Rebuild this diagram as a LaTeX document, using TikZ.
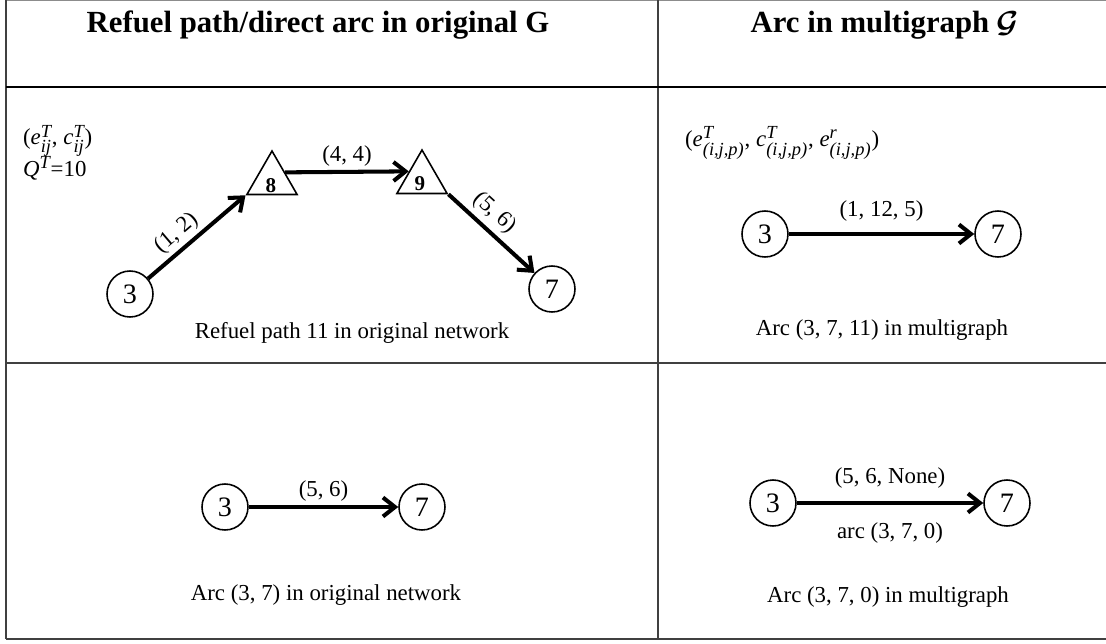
\documentclass[tikz,border=0pt]{standalone}
\usepackage{amsmath}
\usepackage{fontspec}
\setmainfont{Liberation Serif}
\usetikzlibrary{arrows.meta,shapes.geometric,calc}
\newcommand\mi[1]{\textit{#1}}
\newcommand\supsub[2]{$^{\text{\fontsize{10.5}{11}\selectfont\itshape #1}}_{\text{\fontsize{10.5}{11}\selectfont\itshape #2}}$}
\newcommand\calG{\ensuremath{\boldsymbol{\mathcal{G}}}}
\begin{document}
\begin{tikzpicture}[x=0.02cm,y=-0.02cm,
  vertex/.style={circle,draw,line width=0.9pt,minimum size=0.92cm,inner sep=0pt,font=\fontsize{16}{18}\selectfont},
  station/.style={regular polygon,regular polygon sides=3,draw,line width=0.9pt,minimum size=1.16cm,inner sep=0pt},
  stlabel/.style={font=\fontsize{12}{14}\selectfont\bfseries,inner sep=0pt},
  arc/.style={line width=2.3pt,-{Straight Barb[length=2.4mm,width=3.8mm]}},
  lbl/.style={font=\fontsize{13}{15}\selectfont,inner sep=1pt},
  caption/.style={font=\fontsize{13}{15}\selectfont,inner sep=0pt},
  head/.style={font=\fontsize{17.5}{20}\selectfont\bfseries,inner sep=0pt},
  tablerule/.style={draw=black!75,line width=0.85pt}]
\useasboundingbox (0,0) rectangle (1106,643);
% table rules
\draw[draw=black!45,line width=1pt] (6,0.6) -- (1106,0.6);
\draw[tablerule] (6,0) -- (6,639);
\draw[tablerule] (658,0) -- (658,639);
\draw[black,line width=1.7pt] (6,87) -- (1106,87);
\draw[tablerule] (6,363) -- (1106,363);
\draw[tablerule,line width=1.1pt] (6,639) -- (1106,639);
% headers
\node[head] (h1) at (318,25) {Refuel path/direct arc in original G};
\node[head] (h2) at (885,25) {Arc in multigraph \calG};
% row 1 left
\node[lbl,anchor=west] (leg1) at (21,141) {(\mi{e}\supsub{T}{ij}, \mi{c}\supsub{T}{ij})};
\node[lbl,anchor=west] (leg1b) at (21,168) {\mi{Q\/}$^{\text{\fontsize{10.5}{11}\selectfont\itshape T}}$=10};
\node[vertex] (a3) at (130,294) {3};
\node[vertex] (a7) at (552,289) {7};
\node[station] (t8) at (272,180) {};
\node[station] (t9) at (422,179) {};
\node[stlabel] (l8) at (271,186) {8};
\node[stlabel] (l9) at (420,184) {9};
\draw[arc] (a3) -- (t8.corner 2) node[lbl,pos=0.4,above,sloped,yshift=1pt] {(1, 2)};
\draw[arc] ($(t8.corner 1)!0.5!(t8.corner 3)$) -- ($(t9.corner 1)!0.5!(t9.corner 2)$) node[lbl,midway,above,yshift=1pt] {(4, 4)};
\draw[arc] (t9.corner 3) -- (a7) node[lbl,pos=0.4,above,sloped,yshift=2pt] {(5, 6)};
\node[caption] (cap1) at (352,333) {Refuel path 11 in original network};
% row 1 right
\node[lbl,anchor=west] (leg2) at (683,143) {(\mi{e}\supsub{T}{(i,j,p)}, \mi{c}\supsub{T}{(i,j,p)}, \mi{e}\supsub{r}{(i,j,p)})};
\node[vertex] (b3) at (765,234) {3};
\node[vertex] (b7) at (998,234) {7};
\draw[arc] (b3) -- (b7) node[lbl,midway,above,yshift=5pt] {(1, 12, 5)};
\node[caption] (cap2) at (882,330) {Arc (3, 7, 11) in multigraph};
% row 2 left
\node[vertex] (c3) at (225,507) {3};
\node[vertex] (c7) at (422,507) {7};
\draw[arc] (c3) -- (c7) node[lbl,midway,above,yshift=1pt] {(5, 6)};
\node[caption] (cap3) at (326,595) {Arc (3, 7) in original network};
% row 2 right
\node[vertex] (d3) at (773,503) {3};
\node[vertex] (d7) at (1007,503) {7};
\draw[arc] (d3) -- (d7) node[lbl,midway,above,yshift=6pt] {(5, 6, None)}
  node[lbl,midway,below,yshift=-9pt] {arc (3, 7, 0)};
\node[caption] (cap4) at (888,597) {Arc (3, 7, 0) in multigraph};
\end{tikzpicture}
\end{document}
